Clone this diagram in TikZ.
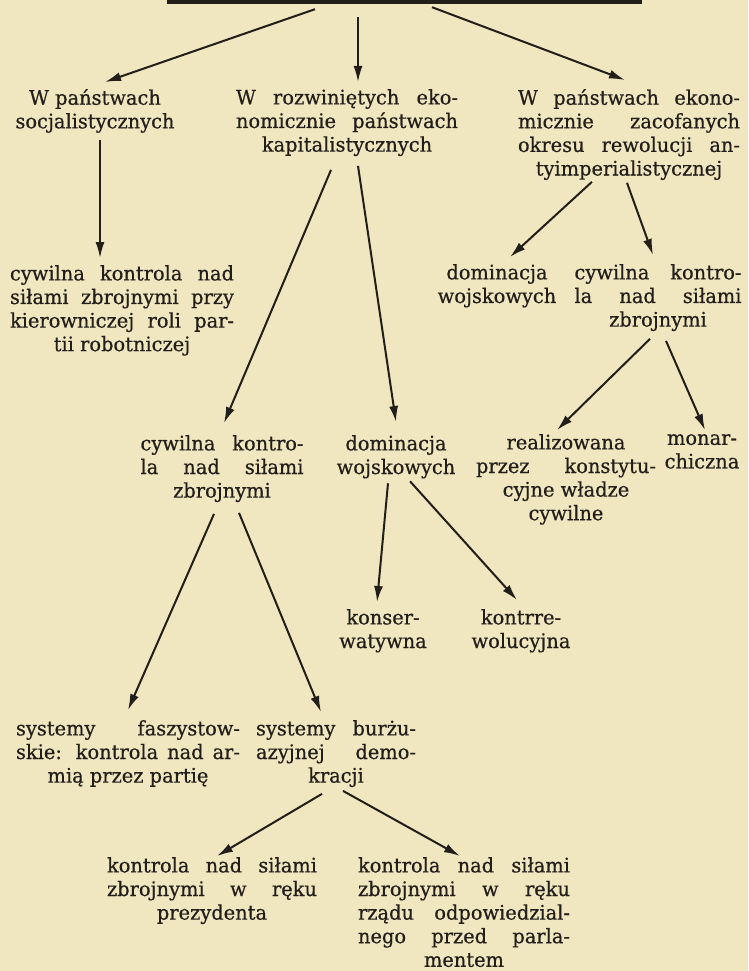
\documentclass[tikz,border=0pt]{standalone}
\usepackage{fontspec}
\setmainfont{DejaVu Serif}[FakeStretch=0.97,FakeBold=0.5]
\usetikzlibrary{arrows.meta}
\definecolor{paper}{HTML}{F0E6C0}
\definecolor{ink}{HTML}{221E19}
\newlength{\blockw}
\newcommand{\jl}[1]{\makebox[\blockw][s]{#1}}

\begin{document}
\begin{tikzpicture}[x=1pt,y=-1pt,
  lbl/.style={font=\fontsize{20}{23.6}\selectfont, text=ink, align=center,
    inner sep=0pt, anchor=north, execute at begin node=\strut},
  blk/.style={lbl, execute at begin node={\setlength{\blockw}{#1}}},
  arr/.style={draw=ink, line width=2pt, -{Latex[length=16pt,width=9pt]}}]
\useasboundingbox (0,0) rectangle (748,971);
\fill[paper] (0,0) rectangle (748,971);

\node[fill=ink, minimum width=475pt, minimum height=4pt, inner sep=0pt] (root) at (404.5,2) {};

\node[lbl] (soc) at (95,89) {W państwach\\socjalistycznych};
\node[blk=222pt] (kap) at (347,89) {\jl{W rozwiniętych eko-}\\\jl{nomicznie państwach}\\kapitalistycznych};
\node[blk=222pt] (zac) at (629,89) {\jl{W państwach ekono-}\\\jl{micznie zacofanych}\\\jl{okresu rewolucji an-}\\tyimperialistycznej};

\node[blk=224pt] (cyw1) at (122,265) {\jl{cywilna kontrola nad}\\\jl{siłami zbrojnymi przy}\\\jl{kierowniczej roli par-}\\tii robotniczej};
\node[lbl] (dom1) at (497,264) {dominacja\\wojskowych};
\node[blk=167pt] (cyw3) at (658,264) {\jl{cywilna kontro-}\\\jl{la nad siłami}\\zbrojnymi};

\node[blk=163pt] (cyw2) at (222,435) {\jl{cywilna kontro-}\\\jl{la nad siłami}\\zbrojnymi};
\node[lbl] (dom2) at (396,435) {dominacja\\wojskowych};
\node[blk=180pt] (real) at (566,434) {realizowana\\\jl{przez konstytu-}\\cyjne władze\\cywilne};
\node[lbl] (mon) at (702,434) {monar-\\chiczna};

\node[lbl] (kons) at (383,609) {konser-\\watywna};
\node[lbl] (kontr) at (521,609) {kontrre-\\wolucyjna};

\node[blk=224pt] (fas) at (128,720) {\jl{systemy faszystow-}\\\jl{skie: kontrola nad ar-}\\mią przez partię};
\node[blk=160pt] (burz) at (336,720) {\jl{systemy burżu-}\\\jl{azyjnej demo-}\\kracji};

\node[blk=210pt] (prez) at (212,857) {\jl{kontrola nad siłami}\\\jl{zbrojnymi w ręku}\\prezydenta};
\node[blk=212pt] (rzad) at (464,857) {\jl{kontrola nad siłami}\\\jl{zbrojnymi w ręku}\\\jl{rządu odpowiedzial-}\\\jl{nego przed parla-}\\mentem};

\foreach \p/\px/\py/\q/\qx/\qy in {root/-89.5/5/soc/10/-7, root/-46.5/13/kap/11/-7,
    root/27.5/3/zac/-4/-9, soc/5/4/cyw1/-22/-7, kap/-16/11/cyw2/2/-12,
    kap/11/7/dom2/0/-13, zac/-37/-1/dom1/13/-7, zac/-2/0/cyw3/-5/-9,
    cyw3/-8/5/real/-9/-4, cyw3/8/7/mon/3/-4, dom2/-8/2/kons/-6/-7,
    dom2/14/0/kontr/-4/-9, cyw2/-8/9/fas/0/-10, cyw2/17/8/burz/-15/-8,
    burz/-14/4/prez/5/-1, burz/7/1/rzad/-4/-1}
  \draw[arr] ([shift={(\px,\py)}]\p.south) -- ([shift={(\qx,\qy)}]\q.north);
\end{tikzpicture}
\end{document}
